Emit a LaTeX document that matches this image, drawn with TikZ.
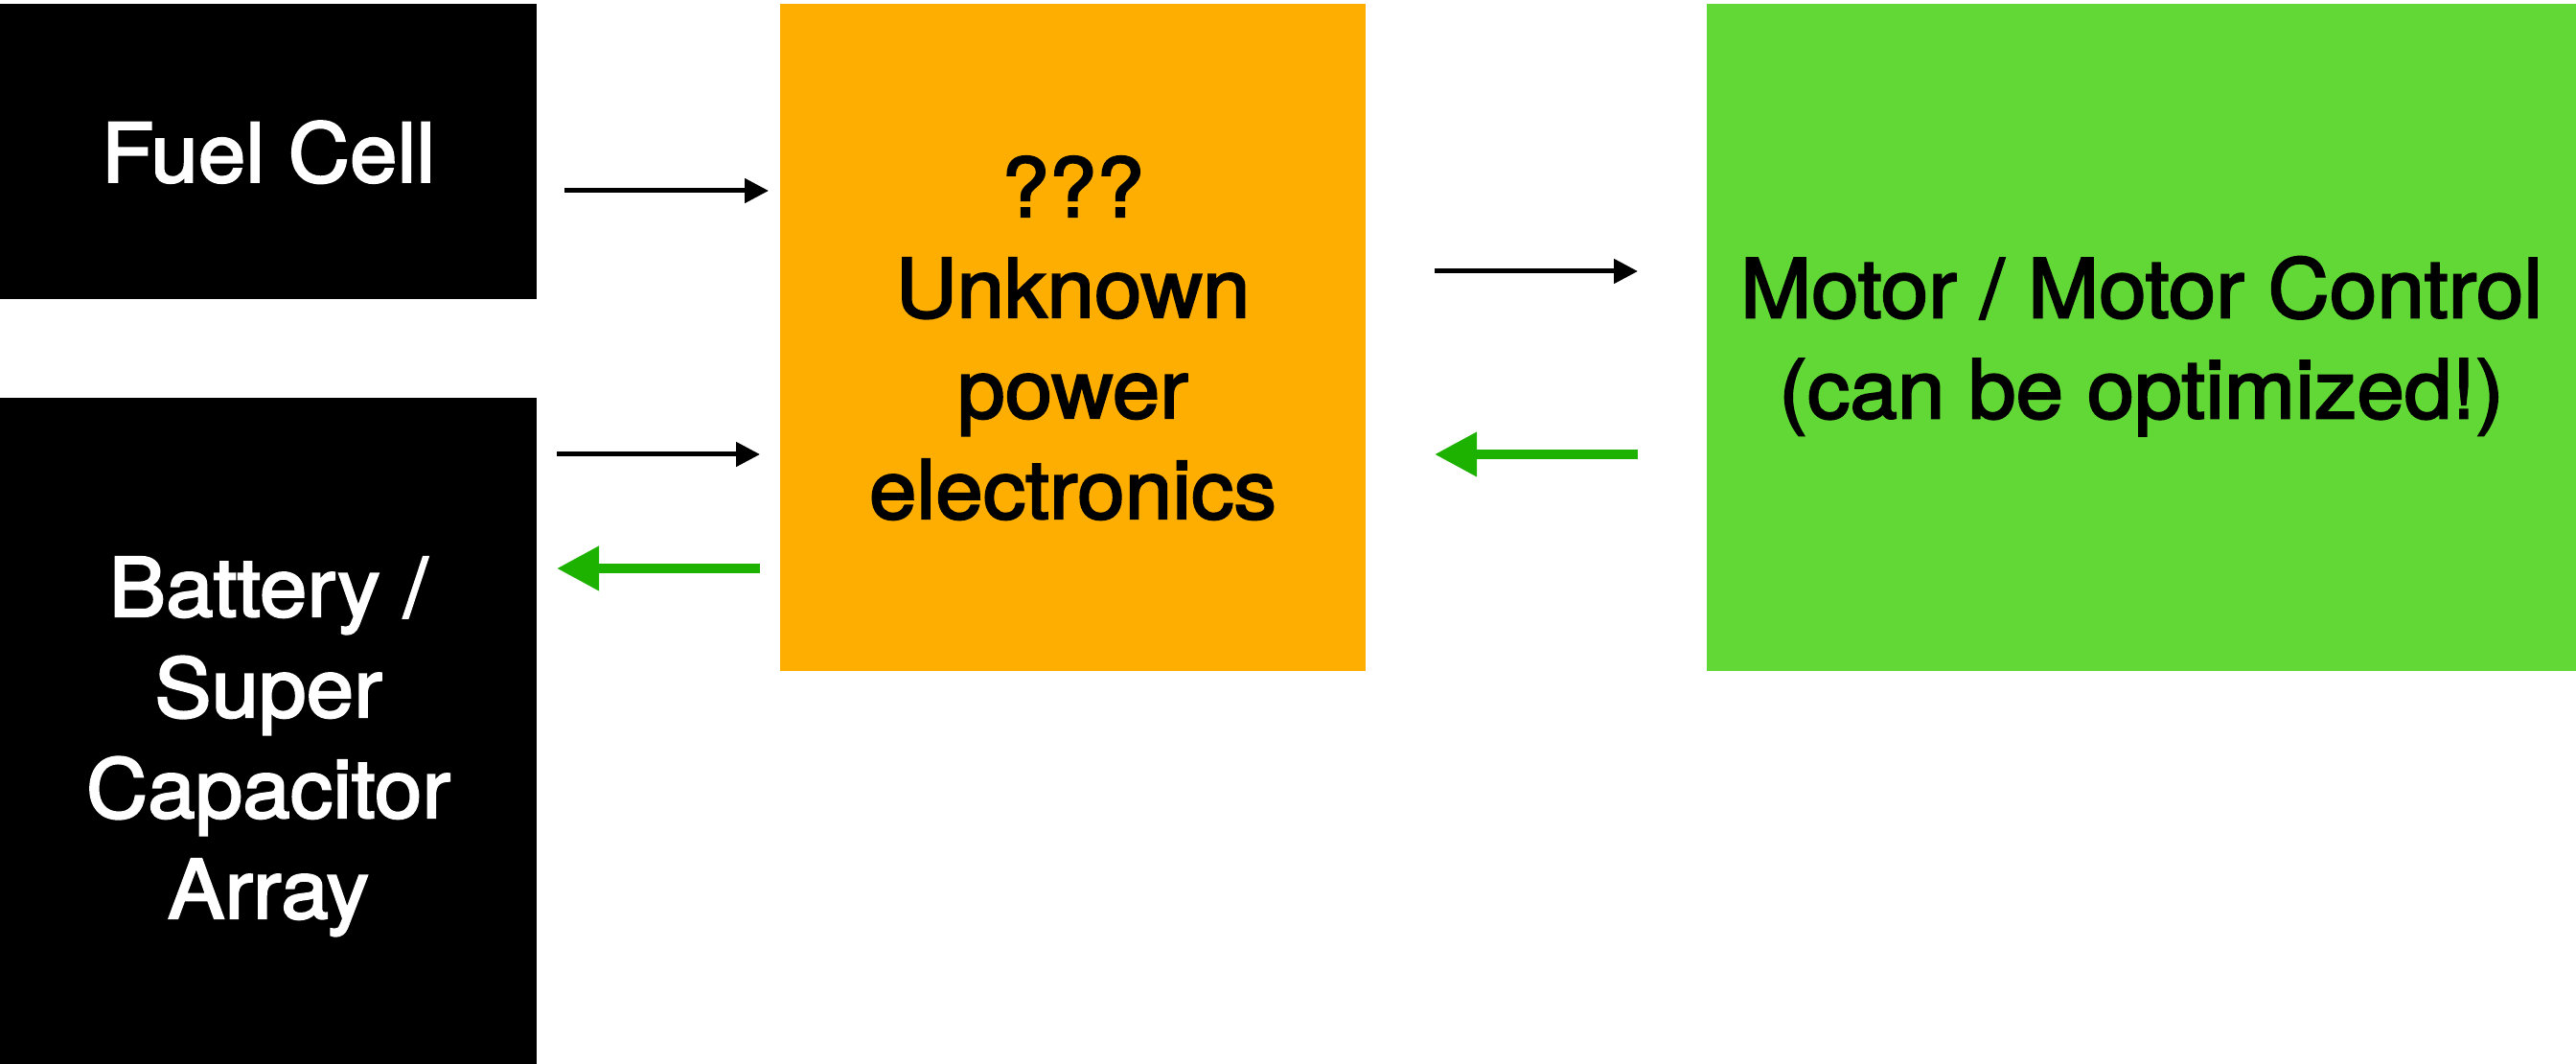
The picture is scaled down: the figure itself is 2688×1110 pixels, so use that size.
\documentclass[tikz,border=0pt]{standalone}
\usepackage{fontspec}
\setmainfont{TeX Gyre Heros}[FakeStretch=1.045, FakeBold=2.5]
\usetikzlibrary{arrows.meta,calc}
\definecolor{peorange}{HTML}{FEAE00}
\definecolor{motorgreen}{HTML}{61D836}
\definecolor{arrgreen}{HTML}{1DB100}
\newcommand\pxu{0.25pt}
\tikzset{
  blockbox/.style={inner sep=0pt, outer sep=0pt, align=center, text depth=0pt,
    font=\fontsize{21.3}{26.25}\selectfont},
  blkarrow/.style={draw=black, line width=5*\pxu,
    -{Triangle[length=25*\pxu, width=25*\pxu]}},
  grnarrow/.style={draw=arrgreen, line width=10*\pxu,
    -{Triangle[length=44*\pxu, width=44*\pxu]}}
}
\begin{document}
\begin{tikzpicture}[x=0.25pt, y=-0.25pt]
\useasboundingbox[fill=white] (0,0) rectangle (2688,1110);
% boxes
\node[blockbox, fill=black, text=white, minimum width=560*\pxu, minimum height=308*\pxu]
  (fuel) at (280,158) {Fuel Cell};
\node[blockbox, fill=black, text=white, minimum width=560*\pxu, minimum height=709*\pxu]
  (batt) at (280,769.5) {Battery /\\Super\\Capacitor\\Array};
\node[blockbox, fill=peorange, text=black, minimum width=611*\pxu, minimum height=696*\pxu]
  (pe) at (1119.5,352) {???\\Unknown\\power\\electronics};
\node[blockbox, fill=motorgreen, text=black, minimum width=907*\pxu, minimum height=696*\pxu]
  (motor) at (2234.5,352) {Motor / Motor Control\\(can be optimized!)};
% connector end points
\coordinate (a1s) at ($(fuel.east)+(29,41)$);
\coordinate (a1e) at ($(pe.west)+(-12,0)$);
\coordinate (a2s) at ($(batt.north east)+(21,59)$);
\coordinate (a2e) at ($(pe.west)+(-21,0)$);
\coordinate (a3s) at ($(pe.west)+(-21,241)$);
\coordinate (a3e) at ($(batt.north east)+(21,0)$);
\coordinate (a4s) at ($(pe.east)+(72,-69)$);
\coordinate (a4e) at ($(motor.west)+(-72,0)$);
\coordinate (a5s) at ($(motor.west)+(-72,122)$);
\coordinate (a5e) at ($(pe.east)+(72,0)$);
% connectors
\draw[blkarrow] (a1s) -- (a1e |- a1s);
\draw[blkarrow] (a2s) -- (a2e |- a2s);
\draw[grnarrow] (a3s) -- (a3e |- a3s);
\draw[blkarrow] (a4s) -- (a4e |- a4s);
\draw[grnarrow] (a5s) -- (a5e |- a5s);
\end{tikzpicture}
\end{document}
